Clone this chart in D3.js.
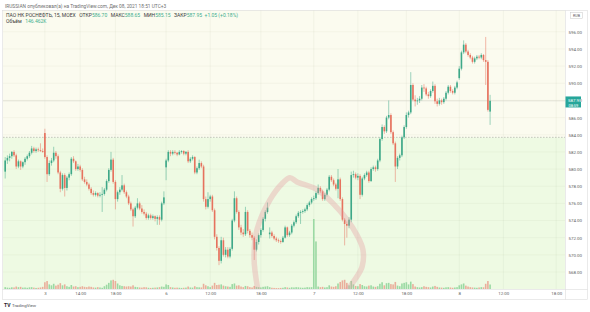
<!DOCTYPE html>
<html>
<head>
<meta charset="utf-8">
<script src="https://cdn.jsdelivr.net/npm/d3@7"></script>
<style>
body { margin: 0; background: #fff; }
svg { display: block; font-family: Roboto, "Noto Sans", sans-serif; }
</style>
</head>
<body>
<div class="container"></div>
<script>
// ROSN, 15 min bars, Dec 3 - Dec 8 2021
var opens = [
579.7,581.0,581.3,581.5,582.0,581.6,580.3,580.9,580.3,580.8,
581.2,581.5,581.9,582.4,582.1,582.3,582.2,582.1,584.2,581.4,
579.4,580.7,581.0,581.9,581.5,579.6,577.7,579.3,577.8,579.0,
579.4,581.2,580.9,580.0,580.3,579.9,578.8,578.5,578.2,577.7,
577.2,577.0,577.2,576.9,577.0,577.1,577.6,578.6,579.9,581.1,
578.5,576.5,577.3,577.6,578.1,577.3,576.8,576.0,575.3,574.5,
575.5,576.0,575.4,575.0,574.8,574.3,574.6,574.3,574.5,574.2,
574.4,574.1,576.0,580.2,581.0,582.0,581.8,582.0,581.9,581.7,
582.0,582.1,581.8,582.0,580.9,581.2,581.4,579.6,580.1,580.7,
580.3,576.5,575.6,576.5,576.8,575.2,572.1,570.8,569.3,571.7,
570.0,570.6,569.8,570.7,574.0,576.6,575.0,573.2,572.6,572.4,
575.0,572.8,572.3,572.0,570.6,571.5,572.3,572.9,574.2,575.0,
572.4,572.6,572.2,571.9,571.7,571.6,571.5,572.0,573.2,572.3,
572.6,573.4,573.8,574.5,574.9,575.0,575.1,575.3,575.8,576.1,
576.5,576.6,577.2,577.8,577.4,576.5,577.0,577.6,579.1,578.7,
578.2,577.7,578.8,576.5,574.1,573.6,573.4,574.1,579.3,579.4,
579.0,579.2,577.0,578.9,579.3,579.6,578.6,580.0,580.2,580.0,
581.0,583.5,584.9,584.4,586.0,586.3,584.3,583.0,580.3,581.3,
581.6,583.7,584.9,586.3,586.6,589.8,588.1,587.9,588.0,588.2,
589.5,589.4,588.7,588.5,589.1,589.7,587.9,587.6,588.0,587.8,
588.2,588.9,589.6,589.1,588.9,589.5,590.6,591.7,593.6,594.5,
593.7,593.3,593.0,592.5,592.9,593.1,593.0,593.3,592.7,592.5,
586.7];

var highs = [
581.4,581.6,581.8,582.1,582.2,581.8,581.1,581.0,580.9,581.4,
581.7,582.1,582.7,582.6,582.5,582.5,583.0,582.4,584.7,581.6,
581.0,581.3,582.6,582.1,581.7,579.8,579.5,579.5,579.2,579.6,
581.4,581.5,581.0,580.6,580.5,580.1,579.1,578.8,578.4,577.9,
577.5,577.4,577.3,577.3,577.9,577.8,578.8,580.1,582.0,581.3,
578.7,577.5,577.9,579.3,578.3,577.5,577.0,576.2,575.5,575.7,
576.6,576.2,575.8,575.3,575.0,574.8,574.8,574.7,574.6,574.6,
574.6,576.2,577.4,581.2,582.2,582.2,582.2,582.2,582.0,582.2,
582.2,582.2,582.1,582.2,581.4,581.6,581.5,580.3,581.1,580.9,
580.5,576.8,577.3,577.0,577.0,575.4,572.4,571.0,572.1,572.0,
570.9,570.9,570.9,574.2,577.4,576.8,575.2,573.5,573.0,575.6,
575.2,573.0,572.6,572.2,571.8,572.5,573.1,574.4,575.2,576.1,
573.2,572.8,572.4,572.1,571.9,571.8,572.2,573.4,573.3,572.8,
573.6,574.0,574.7,575.1,575.2,575.3,575.5,576.0,576.3,576.7,
576.9,577.4,578.2,578.0,577.6,577.2,577.8,579.3,579.3,578.9,
578.4,580.0,579.0,576.7,574.3,573.9,574.4,579.7,579.8,579.6,
579.5,579.4,579.1,579.5,579.8,579.8,580.2,580.4,580.4,581.2,
583.7,585.2,585.1,586.2,588.0,586.5,584.5,583.2,581.5,581.8,
583.9,585.1,586.6,586.8,591.3,590.0,588.6,588.3,588.5,589.8,
589.9,589.6,589.0,589.3,590.2,589.9,588.2,588.3,588.2,588.4,
589.1,589.8,589.8,589.3,589.7,590.3,592.0,593.8,595.0,594.7,
593.9,593.5,593.2,593.1,593.3,593.3,593.5,593.4,595.4,592.7,
588.65];

var lows = [
578.9,580.6,580.9,581.2,581.4,580.0,580.1,579.9,580.1,580.5,
581.0,581.3,581.7,581.9,581.9,582.0,582.0,581.9,581.2,578.5,
579.2,580.4,580.8,581.2,579.4,577.3,577.5,576.8,577.5,578.7,
579.2,580.7,579.8,579.8,579.7,578.6,578.3,578.0,577.5,577.0,
576.8,576.8,576.7,576.7,575.0,576.9,577.4,578.4,579.7,578.3,
575.3,576.2,577.0,577.4,577.1,576.6,575.8,575.1,573.3,574.3,
575.3,575.2,574.8,574.6,574.1,574.1,574.1,574.1,573.9,573.5,
573.5,573.9,575.8,578.7,580.8,581.5,581.6,581.7,581.5,581.6,
581.8,581.6,581.6,580.7,580.7,581.0,579.4,579.4,579.9,580.1,
576.2,575.3,575.4,576.2,575.0,571.8,570.5,568.8,569.0,569.8,
569.7,569.6,569.6,570.5,573.8,574.8,572.9,572.3,572.1,572.2,
572.5,572.0,571.7,569.4,570.4,571.2,572.0,572.7,573.9,574.8,
571.9,572.0,571.7,571.5,571.4,571.3,571.4,571.9,572.1,572.1,
572.4,573.2,573.6,574.3,573.6,574.8,574.9,575.1,575.6,575.9,
576.3,576.4,577.0,577.2,576.3,576.3,576.8,577.4,578.5,578.0,
577.5,576.6,576.3,573.9,571.1,572.0,573.1,573.8,579.0,578.8,
578.7,576.5,576.8,578.7,579.1,578.4,578.5,579.8,579.7,579.8,
580.8,583.3,584.1,584.2,585.8,584.1,582.8,578.5,580.0,581.0,
581.4,583.5,584.7,586.0,586.4,587.9,587.3,587.5,587.7,588.0,
589.0,588.5,588.2,588.3,588.9,587.6,587.3,587.4,587.5,587.6,
588.0,588.7,588.9,588.7,588.7,589.3,590.4,591.5,593.4,593.5,
593.1,592.8,592.3,592.3,592.7,592.8,592.8,592.5,589.8,586.7,
585.15];

var closes = [
581.0,581.3,581.5,582.0,581.6,580.3,580.9,580.3,580.8,581.2,
581.5,581.9,582.4,582.1,582.3,582.2,582.1,582.0,581.4,579.4,
580.7,581.0,581.9,581.5,579.6,577.7,579.3,577.8,579.0,579.4,
581.2,580.9,580.0,580.3,579.9,578.8,578.5,578.2,577.7,577.2,
577.0,577.2,576.9,577.0,577.1,577.6,578.6,579.9,581.1,578.5,
576.5,577.3,577.6,578.1,577.3,576.8,576.0,575.3,574.5,575.5,
576.0,575.4,575.0,574.8,574.3,574.6,574.3,574.5,574.2,574.4,
574.1,576.0,576.7,581.0,582.0,581.8,582.0,581.9,581.7,582.0,
582.1,581.8,582.0,580.9,581.2,581.4,579.6,580.1,580.7,580.3,
576.5,575.6,576.5,576.8,575.2,572.1,570.8,569.3,571.7,570.0,
570.6,569.8,570.7,574.0,576.6,575.0,573.2,572.6,572.4,575.0,
572.8,572.3,572.0,570.6,571.5,572.3,572.9,574.2,575.0,575.5,
572.6,572.2,571.9,571.7,571.6,571.5,572.0,573.2,572.3,572.6,
573.4,573.8,574.5,574.9,575.0,575.1,575.3,575.8,576.1,576.5,
576.6,577.2,577.8,577.4,576.5,577.0,577.6,579.1,578.7,578.2,
577.7,578.8,576.5,574.1,573.6,573.4,574.1,579.3,579.4,579.0,
579.2,577.0,578.9,579.3,579.6,578.6,580.0,580.2,580.0,581.0,
583.5,584.9,584.4,586.0,586.3,584.3,583.0,580.3,581.3,581.6,
583.7,584.9,586.3,586.6,589.8,588.1,587.9,588.0,588.2,589.5,
589.4,588.7,588.5,589.1,589.7,587.9,587.6,588.0,587.8,588.2,
588.9,589.6,589.1,588.9,589.5,590.1,591.7,593.6,594.5,593.7,
593.3,593.0,592.5,592.9,593.1,593.0,593.3,592.7,592.5,586.9,
587.95];

// volume, thousands
var volumes = [
60,45,40,55,50,80,60,70,45,50,40,55,60,45,35,40,50,70,
220,260,150,120,170,110,140,190,
120,150,90,70,130,80,90,60,70,90,70,60,80,70,50,45,60,50,40,90,
140,200,280,300,260,180,120,100,90,80,
90,80,120,70,60,50,45,60,55,40,35,40,45,50,60,80,70,
150,130,60,50,40,45,40,35,40,45,80,50,45,90,60,55,50,
170,120,90,60,110,200,130,140,150,110,90,80,70,160,180,
110,120,80,60,100,90,60,50,100,70,60,50,70,80,90,
60,40,35,30,30,35,40,60,50,40,55,50,60,55,45,40,45,60,55,60,
2280,1550,
80,60,70,50,60,120,80,70,90,
180,230,280,300,200,120,260,150,100,90,
160,130,90,80,110,120,80,70,90,170,220,120,190,200,160,
150,230,110,90,180,200,220,150,240,160,
80,60,50,60,90,70,60,50,80,100,70,50,45,40,55,60,50,40,50,60,
120,150,180,110,80,
60,50,45,40,50,60,55,
170,260,146.462];

var timeTicks = [18, 34, 50, 73, 93, 116, 140, 160, 182, 206, 226, 250];
var timeLabels = ['3', '14:00', '18:00', '6', '12:00', '18:00', '7', '12:00', '18:00', '8', '12:00', '18:00'];
var priceTicks = [568, 570, 572, 574, 576, 578, 580, 582, 584, 586, 588, 590, 592, 594, 596];

var lastPrice = 587.95;
var zonePrice = 583.7;

// hand-drawn loop on the chart, in (bar, price)
var loopBars = [114.7, 112.9, 114.2, 120.1, 126.0, 129.2, 132.4, 141.5, 148.7, 155.1, 159.6, 162.3, 161.9, 157.8, 154.6];
var loopPrices = [565.8, 569.6, 572.9, 576.4, 578.4, 579.0, 578.5, 577.6, 576.0, 574.1, 572.3, 570.6, 568.6, 566.8, 565.7];

var width = 590;
var height = 312;
var paneLeft = 3, paneRight = 565, paneTop = 10, paneBottom = 289;
var upColor = '#3ea888', downColor = '#e6725e';

var svg = d3.select('.container').append('svg')
    .attr('width', width)
    .attr('height', height);

svg.append('rect').attr('width', width).attr('height', height).attr('fill', '#fff');

var x = d3.scaleLinear().domain([0, 220]).range([5.2, 490.1]);
var y = d3.scaleLinear().domain([568, 596]).range([272, 31.8]);
var vy = d3.scaleLinear().domain([0, 2300]).range([paneBottom, paneBottom - 70.6]);

svg.append('clipPath').attr('id', 'pane')
  .append('rect')
    .attr('x', paneLeft).attr('y', paneTop)
    .attr('width', paneRight - paneLeft).attr('height', paneBottom - paneTop);

var pane = svg.append('g').attr('clip-path', 'url(#pane)');

// two background zones split at the dashed level
pane.append('rect')
    .attr('x', paneLeft).attr('y', paneTop)
    .attr('width', paneRight - paneLeft).attr('height', y(zonePrice) - paneTop)
    .attr('fill', '#fbfbef');
pane.append('rect')
    .attr('x', paneLeft).attr('y', y(zonePrice))
    .attr('width', paneRight - paneLeft).attr('height', paneBottom - y(zonePrice))
    .attr('fill', '#eefae3');

// grid
pane.selectAll('.hgrid').data(priceTicks).enter().append('line')
    .attr('x1', paneLeft).attr('x2', paneRight)
    .attr('y1', function(d) { return y(d); }).attr('y2', function(d) { return y(d); })
    .attr('stroke', 'rgba(110,120,80,0.09)').attr('stroke-width', 0.6);
pane.selectAll('.vgrid').data(timeTicks).enter().append('line')
    .attr('y1', paneTop).attr('y2', paneBottom)
    .attr('x1', function(d) { return x(d); }).attr('x2', function(d) { return x(d); })
    .attr('stroke', 'rgba(110,120,80,0.1)').attr('stroke-width', 0.6);

var bars = d3.range(closes.length);

// volume
pane.selectAll('.vol').data(bars).enter().append('rect')
    .attr('x', function(i) { return x(i) - 0.8; })
    .attr('width', 1.6)
    .attr('y', function(i) { return vy(volumes[i]); })
    .attr('height', function(i) { return paneBottom - vy(volumes[i]); })
    .attr('fill', function(i) { return closes[i] >= opens[i] ? '#9bd9a3' : '#eaae9b'; });

// last price line and dashed level
pane.append('line')
    .attr('x1', paneLeft).attr('x2', paneRight)
    .attr('y1', y(lastPrice)).attr('y2', y(lastPrice))
    .attr('stroke', '#d9d9cf').attr('stroke-width', 0.7);
pane.append('line')
    .attr('x1', paneLeft).attr('x2', paneRight)
    .attr('y1', y(zonePrice)).attr('y2', y(zonePrice))
    .attr('stroke', '#a5a59a').attr('stroke-width', 0.6)
    .attr('stroke-dasharray', '1.6,1.4');

// candles
var candle = pane.selectAll('.candle').data(bars).enter().append('g');
candle.append('line')
    .attr('x1', function(i) { return x(i); }).attr('x2', function(i) { return x(i); })
    .attr('y1', function(i) { return y(highs[i]); })
    .attr('y2', function(i) { return y(lows[i]); })
    .attr('stroke', function(i) { return closes[i] >= opens[i] ? upColor : downColor; })
    .attr('stroke-width', 0.5);
candle.append('rect')
    .attr('x', function(i) { return x(i) - 0.8; })
    .attr('width', 1.6)
    .attr('y', function(i) { return y(Math.max(opens[i], closes[i])); })
    .attr('height', function(i) { return Math.max(0.6, Math.abs(y(opens[i]) - y(closes[i]))); })
    .attr('fill', function(i) { return closes[i] >= opens[i] ? upColor : downColor; });

// loop drawing
var loopLine = d3.line()
    .curve(d3.curveCatmullRom)
    .x(function(d) { return x(loopBars[d]); })
    .y(function(d) { return y(loopPrices[d]); });
pane.append('path')
    .datum(d3.range(loopBars.length))
    .attr('d', loopLine)
    .attr('fill', 'none')
    .attr('stroke', 'rgba(228,150,158,0.34)')
    .attr('stroke-width', 5.5)
    .attr('stroke-linecap', 'round')
    .attr('stroke-linejoin', 'round');

// frame and axis separators
svg.append('rect')
    .attr('x', 2.5).attr('y', 10.5).attr('width', 585).attr('height', 289)
    .attr('fill', 'none').attr('stroke', '#dcdcdc').attr('stroke-width', 0.6);
svg.append('line')
    .attr('x1', paneRight + 0.5).attr('x2', paneRight + 0.5)
    .attr('y1', 10.5).attr('y2', 299.5)
    .attr('stroke', '#dcdcdc').attr('stroke-width', 0.6);
svg.append('line')
    .attr('x1', 2.5).attr('x2', 587.5)
    .attr('y1', paneBottom + 0.5).attr('y2', paneBottom + 0.5)
    .attr('stroke', '#dcdcdc').attr('stroke-width', 0.6);

// price axis
var yAxis = d3.axisRight(y)
    .tickValues(priceTicks)
    .tickFormat(d3.format('.2f'))
    .tickSize(0)
    .tickPadding(3.5);
var yg = svg.append('g')
    .attr('transform', 'translate(' + paneRight + ',0)')
    .call(yAxis);
yg.select('.domain').remove();
yg.selectAll('text').attr('font-size', 4.4).attr('fill', '#5d5d5d').attr('font-family', 'Roboto');

// time axis
var xAxis = d3.axisBottom(x)
    .tickValues(timeTicks)
    .tickFormat(function(d, k) { return timeLabels[k]; })
    .tickSize(0)
    .tickPadding(3);
var xg = svg.append('g')
    .attr('transform', 'translate(0,' + paneBottom + ')')
    .call(xAxis);
xg.select('.domain').remove();
xg.selectAll('text').attr('font-size', 4.4).attr('fill', '#5d5d5d').attr('font-family', 'Roboto');

// last price label
svg.append('rect')
    .attr('x', paneRight + 0.5).attr('y', y(lastPrice) - 4.4)
    .attr('width', 15.5).attr('height', 11)
    .attr('fill', '#26a69a');
svg.append('text')
    .attr('x', paneRight + 3).attr('y', y(lastPrice) + 1.5)
    .attr('font-size', 4.4).attr('fill', '#fff')
    .text(d3.format('.2f')(lastPrice));
svg.append('text')
    .attr('x', paneRight + 3.4).attr('y', y(lastPrice) + 5.8)
    .attr('font-size', 4).attr('fill', '#fff')
    .text('08:59');

// currency box
svg.append('rect')
    .attr('x', 570.5).attr('y', 12.5).attr('width', 12).attr('height', 6)
    .attr('fill', '#fff').attr('stroke', '#c8c8c8').attr('stroke-width', 0.5);
svg.append('text')
    .attr('x', 576.5).attr('y', 17).attr('text-anchor', 'middle')
    .attr('font-size', 3.6).attr('fill', '#555')
    .text('RUB');

// header
svg.append('text')
    .attr('x', 5).attr('y', 7.8)
    .attr('font-size', 4.8).attr('fill', '#6f6f6f')
    .text('IRUSSIAN опубликовал(а) на TradingView.com, Дек 08, 2021 18:51 UTC+3');

var green = '#3fae8e';
var leg = svg.append('text')
    .attr('x', 6).attr('y', 17.4)
    .attr('font-size', 5).attr('fill', '#3a3a3a');
leg.append('tspan').text('ПАО НК РОСНЕФТЬ, 15, MOEX');
leg.append('tspan').attr('dx', 3.5).text('ОТКР');
leg.append('tspan').attr('fill', green).text('586.70');
leg.append('tspan').attr('dx', 3.5).text('МАКС');
leg.append('tspan').attr('fill', green).text('588.65');
leg.append('tspan').attr('dx', 3.5).text('МИН');
leg.append('tspan').attr('fill', green).text('585.15');
leg.append('tspan').attr('dx', 3.5).text('ЗАКР');
leg.append('tspan').attr('fill', green).text('587.95');
leg.append('tspan').attr('dx', 2.5).attr('fill', green).text('+1.05 (+0.18%)');

var leg2 = svg.append('text')
    .attr('x', 6).attr('y', 22.9)
    .attr('font-size', 5).attr('fill', '#3a3a3a');
leg2.append('tspan').text('Объём');
leg2.append('tspan').attr('dx', 3.5).attr('fill', green).text('146.462K');

// footer logo
svg.append('text')
    .attr('x', 4).attr('y', 306.8)
    .attr('font-size', 5).attr('font-weight', 'bold').attr('fill', '#1e222d')
    .text('TV');
svg.append('text')
    .attr('x', 12).attr('y', 306.6)
    .attr('font-size', 4.4).attr('fill', '#555')
    .text('TradingView');
</script>
</body>
</html>
